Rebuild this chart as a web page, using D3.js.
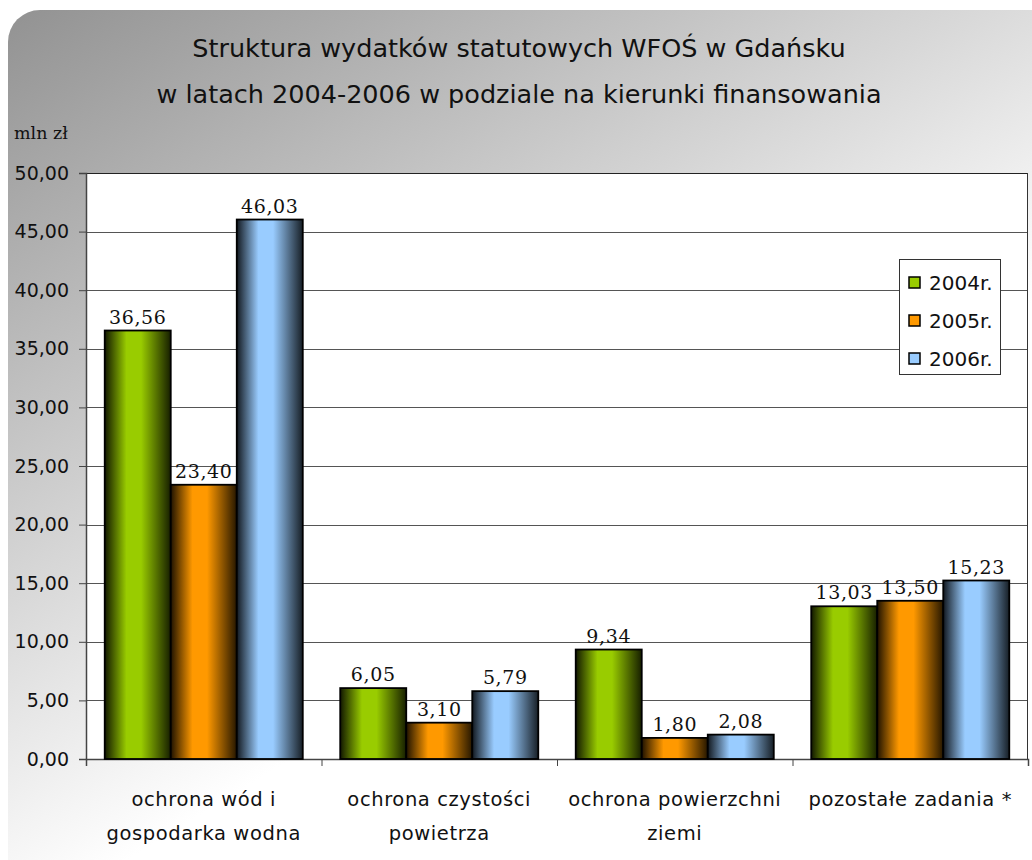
<!DOCTYPE html>
<html>
<head>
<meta charset="utf-8">
<script src="https://cdn.jsdelivr.net/npm/d3@7"></script>
<style>
	body { margin: 0; background: #fff; }
	svg { display: block; }
	.sans { font-family: "DejaVu Sans", sans-serif; fill: #111; }
	.serif { font-family: "DejaVu Serif", serif; fill: #111; }
</style>
</head>
<body>
<div id="___bar_chart"></div>
<script>
// dane
var categories = [
	["ochrona wód i", "gospodarka wodna"],
	["ochrona czystości", "powietrza"],
	["ochrona powierzchni", "ziemi"],
	["pozostałe zadania *"]
];
var series = ["2004r.", "2005r.", "2006r."];
var values_2004 = [36.56, 6.05, 9.34, 13.03];
var values_2005 = [23.40, 3.10, 1.80, 13.50];
var values_2006 = [46.03, 5.79, 2.08, 15.23];
var yTicks = [0, 5, 10, 15, 20, 25, 30, 35, 40, 45, 50];

var titleLines = [
	"Struktura wydatków statutowych WFOŚ w Gdańsku",
	"w latach 2004-2006 w podziale na kierunki finansowania"
];

var colors = ["#99cc00", "#ff9900", "#99ccff"];

var all_values = [values_2004, values_2005, values_2006];

var fmt = function (v) { return v.toFixed(2).replace(".", ","); };

var W = 1032, H = 860;
var plot = { left: 86, right: 1028, top: 173, bottom: 759 };

var svg = d3.select("#___bar_chart")
	.append("svg")
	.attr("width", W)
	.attr("height", H);

var defs = svg.append("defs");

// tlo - gradient
var bg = defs.append("linearGradient")
	.attr("id", "bg_grad")
	.attr("gradientUnits", "userSpaceOnUse")
	.attr("x1", 8).attr("y1", 10)
	.attr("x2", 420).attr("y2", 680);
bg.append("stop").attr("offset", 0).attr("stop-color", "#929292");
bg.append("stop").attr("offset", 1).attr("stop-color", "#ffffff");

// gradienty slupkow
colors.forEach(function (c, i) {
	var g = defs.append("linearGradient")
		.attr("id", "bar_grad_" + i)
		.attr("x1", 0).attr("x2", 1).attr("y1", 0).attr("y2", 0);
	var dark = d3.interpolateRgb("#000", c);
	g.append("stop").attr("offset", 0).attr("stop-color", dark(0.12));
	g.append("stop").attr("offset", 0.33).attr("stop-color", c);
	g.append("stop").attr("offset", 0.55).attr("stop-color", c);
	g.append("stop").attr("offset", 1).attr("stop-color", dark(0.15));
});

var r = 32;
svg.append("path")
	.attr("d", "M8," + (10 + r) + " A" + r + "," + r + " 0 0 1 " + (8 + r) + ",10 L" + W + ",10 L" + W + "," + H + " L8," + H + " Z")
	.attr("fill", "url(#bg_grad)");

// tytul
svg.append("g").selectAll("text")
	.data(titleLines)
	.enter()
	.append("text")
	.attr("class", "sans")
	.attr("x", 519)
	.attr("y", function (d, i) { return 57 + i * 46; })
	.attr("text-anchor", "middle")
	.style("font-size", "25.5px")
	.text(function (d) { return d; });

svg.append("text")
	.attr("class", "serif")
	.attr("x", 14)
	.attr("y", 139)
	.style("font-size", "17.5px")
	.text("mln zł");

// skale
var x0 = d3.scaleBand()
	.domain(d3.range(categories.length))
	.range([plot.left, plot.right])
	.paddingInner(0.159)
	.paddingOuter(0.0795);

var x1 = d3.scaleBand()
	.domain(d3.range(series.length))
	.range([0, x0.bandwidth()]);

var y = d3.scaleLinear()
	.domain([0, 50])
	.range([plot.bottom, plot.top]);

// obszar wykresu
svg.append("rect")
	.attr("x", plot.left)
	.attr("y", plot.top)
	.attr("width", plot.right - plot.left)
	.attr("height", plot.bottom - plot.top)
	.attr("fill", "#fff");

// linie siatki
svg.append("g")
	.selectAll("line")
	.data(yTicks.slice(1))
	.enter()
	.append("line")
	.attr("x1", plot.left)
	.attr("x2", plot.right)
	.attr("y1", function (d) { return Math.round(y(d)) + 0.5; })
	.attr("y2", function (d) { return Math.round(y(d)) + 0.5; })
	.attr("stroke", function (d) { return d === 50 ? "#222" : "#555"; })
	.attr("stroke-width", 1.2);

svg.append("line")
	.attr("x1", plot.right - 0.5).attr("x2", plot.right - 0.5)
	.attr("y1", plot.top).attr("y2", plot.bottom)
	.attr("stroke", "#333");

// os Y
var yAxis = svg.append("g")
	.attr("transform", "translate(" + plot.left + ",0)")
	.call(d3.axisLeft(y).tickValues(yTicks).tickSize(7).tickPadding(10).tickFormat(fmt));
yAxis.select(".domain").attr("stroke", "#444").attr("stroke-width", 1.5);
yAxis.selectAll(".tick line").attr("stroke", "#444");
yAxis.selectAll("text")
	.attr("class", "sans")
	.style("font-size", "19px")
	.attr("fill", "#111");

// os X
var xAxis = svg.append("g")
	.attr("transform", "translate(0," + plot.bottom + ")")
	.call(d3.axisBottom(d3.scaleLinear().domain([0, 4]).range([plot.left, plot.right]))
		.tickValues([0, 1, 2, 3, 4]).tickSize(7).tickFormat(""));
xAxis.select(".domain").attr("stroke", "#444").attr("stroke-width", 1.5);
xAxis.selectAll(".tick line").attr("stroke", "#444");

// etykiety kategorii
var catLabels = svg.append("g")
	.selectAll("text")
	.data(categories)
	.enter()
	.append("text")
	.attr("class", "sans")
	.attr("text-anchor", "middle")
	.style("font-size", "19.5px")
	.style("letter-spacing", "0.6px");
catLabels.selectAll("tspan")
	.data(function (d, i) { return d.map(function (t) { return { t: t, i: i }; }); })
	.enter()
	.append("tspan")
	.attr("x", function (d) { return x0(d.i) + x0.bandwidth() / 2; })
	.attr("y", function (d, j) { return 806 + j * 34; })
	.text(function (d) { return d.t; });

// slupki
var groups = svg.append("g")
	.selectAll("g")
	.data(categories)
	.enter()
	.append("g")
	.attr("transform", function (d, i) { return "translate(" + x0(i) + ",0)"; });

var bars = groups.selectAll("g")
	.data(function (d, i) {
		return series.map(function (s, k) { return { k: k, v: all_values[k][i] }; });
	})
	.enter()
	.append("g");

bars.append("rect")
	.attr("x", function (d) { return x1(d.k); })
	.attr("y", function (d) { return y(d.v); })
	.attr("width", x1.bandwidth())
	.attr("height", function (d) { return y(0) - y(d.v); })
	.attr("fill", function (d) { return "url(#bar_grad_" + d.k + ")"; })
	.attr("stroke", "#000")
	.attr("stroke-width", 1.8);

bars.append("text")
	.attr("class", "serif")
	.attr("x", function (d) { return x1(d.k) + x1.bandwidth() / 2; })
	.attr("y", function (d) { return y(d.v) - 7; })
	.attr("text-anchor", "middle")
	.style("font-size", "19px")
	.style("letter-spacing", "0.6px")
	.text(function (d) { return fmt(d.v); });

// legenda
var legend = svg.append("g").attr("transform", "translate(899,259)");
legend.append("rect")
	.attr("x", 0.5).attr("y", 0.5)
	.attr("width", 101).attr("height", 115)
	.attr("fill", "#fff")
	.attr("stroke", "#333");
var li = legend.selectAll("g.item")
	.data(series)
	.enter()
	.append("g")
	.attr("class", "item")
	.attr("transform", function (d, i) { return "translate(10," + (24 + i * 38) + ")"; });
li.append("rect")
	.attr("x", 0).attr("y", -6)
	.attr("width", 11).attr("height", 11)
	.attr("fill", function (d, i) { return colors[i]; })
	.attr("stroke", "#000")
	.attr("stroke-width", 1.5);
li.append("text")
	.attr("class", "sans")
	.attr("x", 20)
	.attr("y", 7)
	.style("font-size", "20px")
	.text(function (d) { return d; });
</script>
</body>
</html>
